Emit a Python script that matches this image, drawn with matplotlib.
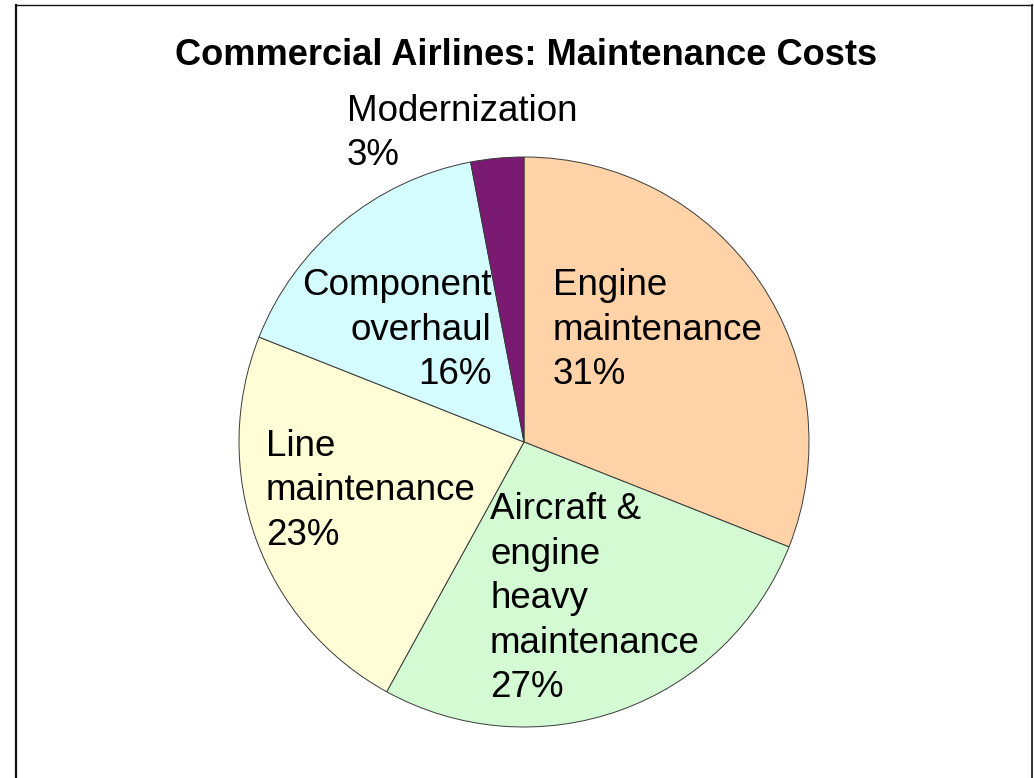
import matplotlib
matplotlib.use("Agg")
import matplotlib.pyplot as plt
from matplotlib.lines import Line2D

# Maintenance cost breakdown (percent of total)
categories = ["Engine\nmaintenance", "Aircraft &\nengine\nheavy\nmaintenance",
              "Line\nmaintenance", "Component\noverhaul", "Modernization"]
shares = [31, 27, 23, 16, 3]
colors = ["#FFD3A7", "#D3FAD3", "#FFFDD6", "#D4FBFE", "#7A1A73"]

title = "Commercial Airlines: Maintenance Costs"

# label anchors in pie-radius units (baseline of the last line), with alignment
label_pos = [(0.102, 0.2035, "left"), (-0.119, -0.895, "left"),
             (-0.905, -0.361, "left"), (-0.114, 0.2035, "right"),
             (-0.621, 0.972, "left")]

W, H = 1034, 778
fig = plt.figure(figsize=(W / 100, H / 100), dpi=100)
fig.patch.set_facecolor("white")

cx, cy, R = 524, 442, 285
ax = fig.add_axes([(cx - R) / W, (H - cy - R) / H, 2 * R / W, 2 * R / H])
ax.pie(shares, colors=colors, startangle=90, counterclock=False, radius=1,
       wedgeprops=dict(edgecolor="#3a3a3a", linewidth=0.7))
ax.set_xlim(-1, 1)
ax.set_ylim(-1, 1)
ax.set_aspect("equal")
ax.axis("off")

font = "Liberation Sans"
for cat, val, (x, y, ha) in zip(categories, shares, label_pos):
    ax.text(x, y, f"{cat}\n{val}%", ha=ha, va="baseline", multialignment=ha,
            fontsize=26.5, family=font, linespacing=1.35, clip_on=False)

fig.text(526 / W, 1 - 65 / H, title, ha="center", va="baseline",
         fontsize=26.1, fontweight="bold", family=font)

# chart frame (open at the bottom)
fig.add_artist(Line2D([15.5 / W, 15.5 / W], [0, 1 - 5 / H], color="#111111",
                      linewidth=1.6, transform=fig.transFigure))
fig.add_artist(Line2D([15.5 / W, 1032 / W], [1 - 5 / H, 1 - 5 / H],
                      color="#111111", linewidth=1.0, transform=fig.transFigure))
fig.add_artist(Line2D([1032 / W, 1032 / W], [0, 1 - 5 / H], color="#111111",
                      linewidth=1.2, transform=fig.transFigure))

fig.savefig("out.png", dpi=100, facecolor="white")
